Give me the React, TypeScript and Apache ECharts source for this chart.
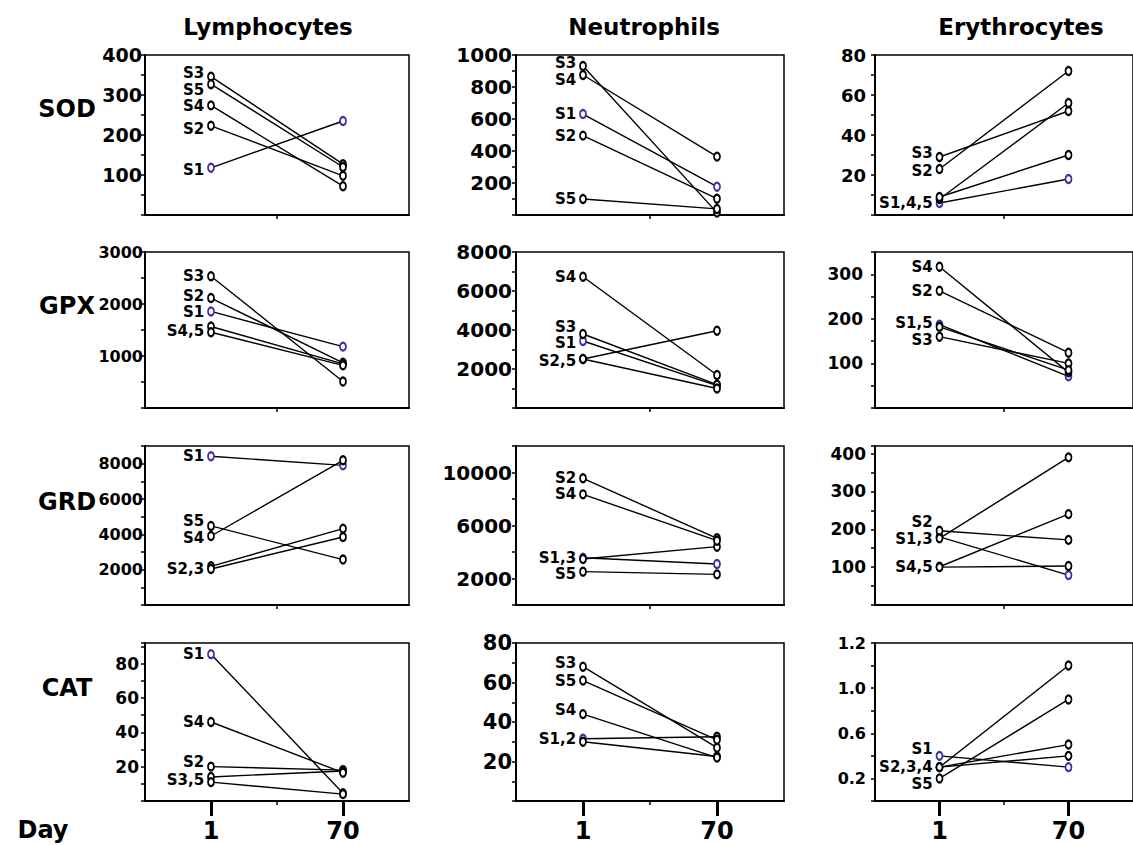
import React, { useEffect, useRef } from "react";
import * as echarts from "echarts";

// ---------- DATA ----------
const CELLS = ["Lymphocytes", "Neutrophils", "Erythrocytes"];
const ENZYMES = ["SOD", "GPX", "GRD", "CAT"];
const DAYS = ["1", "70"];
const DAY_POS = [1, 3];
const X_LABEL = "Day";

// subjects S1..S5, value at day 1 and day 70
const LYM_SOD_D1 = [118, 223, 346, 274, 327];
const LYM_SOD_D70 = [235, 98, 127, 72, 120];
const LYM_GPX_D1 = [1857, 2114, 2534, 1567, 1457];
const LYM_GPX_D70 = [1180, 870, 509, 850, 820];
const LYM_GRD_D1 = [8417, 2190, 2038, 3905, 4476];
const LYM_GRD_D70 = [7905, 4324, 3848, 8190, 2571];
const LYM_CAT_D1 = [85.5, 20, 14, 46, 11];
const LYM_CAT_D70 = [4.5, 18, 17.5, 16.5, 4];

const NEU_SOD_D1 = [631, 496, 931, 875, 100];
const NEU_SOD_D70 = [177, 102, 15, 365, 38];
const NEU_GPX_D1 = [3436, 2513, 3795, 6733, 2513];
const NEU_GPX_D70 = [1150, 3964, 1200, 1692, 1000];
const NEU_GRD_D1 = [3570, 9560, 3472, 8352, 2516];
const NEU_GRD_D70 = [3094, 5032, 4402, 4855, 2314];
const NEU_CAT_D1 = [31.5, 30, 68, 44, 61];
const NEU_CAT_D70 = [32.5, 22.5, 27, 22, 31];

const ERY_SOD_D1 = [6, 23, 29, 8, 9];
const ERY_SOD_D70 = [18, 72, 52, 56, 30];
const ERY_GPX_D1 = [187, 263, 160, 317, 182];
const ERY_GPX_D70 = [71, 124, 100, 80, 85];
const ERY_GRD_D1 = [180, 196, 176, 101, 100];
const ERY_GRD_D70 = [79, 172, 390, 240, 103];
const ERY_CAT_D1 = [0.4, 0.3, 0.3, 0.3, 0.2];
const ERY_CAT_D70 = [0.3, 1.2, 0.5, 0.4, 0.9];

// point labels (attached to day-1 point of each subject)
const LYM_SOD_LBL = ["S1", "S2", "S3", "S4", "S5"];
const NEU_SOD_LBL = ["S1", "S2", "S3", "S4", "S5"];
const ERY_SOD_LBL = ["", "S2", "S3", "S1,4,5", ""];
const LYM_GPX_LBL = ["S1", "S2", "S3", "S4,5", ""];
const NEU_GPX_LBL = ["S1", "S2,5", "S3", "S4", ""];
const ERY_GPX_LBL = ["S1,5", "S2", "S3", "S4", ""];
const LYM_GRD_LBL = ["S1", "S2,3", "", "S4", "S5"];
const NEU_GRD_LBL = ["S1,3", "S2", "", "S4", "S5"];
const ERY_GRD_LBL = ["S1,3", "S2", "", "S4,5", ""];
const LYM_CAT_LBL = ["S1", "S2", "", "S4", "S3,5"];
const NEU_CAT_LBL = ["S1,2", "", "S3", "S4", "S5"];
const ERY_CAT_LBL = ["S1", "S2,3,4", "", "", "S5"];

// which S1 points are drawn in blue [day1, day70]
const LYM_BLUE = [[1, 1], [1, 1], [1, 1], [1, 0]];
const NEU_BLUE = [[1, 1], [1, 0], [1, 1], [1, 0]];
const ERY_BLUE = [[1, 1], [1, 1], [0, 1], [1, 1]];

// y-axis tick labels
const LYM_TICKS = [[100, 200, 300, 400], [1000, 2000, 3000], [2000, 4000, 6000, 8000], [20, 40, 60, 80]];
const NEU_TICKS = [[200, 400, 600, 800, 1000], [2000, 4000, 6000, 8000], [2000, 6000, 10000], [20, 40, 60, 80]];
const ERY_TICKS = [[20, 40, 60, 80], [100, 200, 300], [100, 200, 300, 400], [0.2, 0.6, 1.0, 1.4]];
const ERY_CAT_TICK_TEXT = ["0.2", "0.6", "1.0", "1.2"];

// y-axis ranges / tick steps
const LYM_MAX = [400, 3000, 9000, 92];
const LYM_STEP = [50, 500, 1000, 10];
const NEU_MAX = [1000, 8000, 12000, 80];
const NEU_STEP = [100, 1000, 2000, 10];
const ERY_MAX = [80, 350, 420, 1.4];
const ERY_STEP = [10, 50, 50, 0.2];

// ---------- LAYOUT / STYLE ----------
const COL_LEFT = [145, 516, 875];
const COL_W = [264, 268, 268];
const ROW_TOP = [55, 252, 446, 643];
const ROW_H = [160, 156, 159, 158];
const TITLE_X = [268, 644, 1021];
const ROW_LABEL_Y = [109, 306, 502, 688];
const FONT = '"DejaVu Sans", sans-serif';
const BLUE = "#3a32a8";

// y tick label font sizes and margins per [col][row]
const YLBL_SIZE = [[19, 16, 16, 17], [20, 20, 20, 21], [18, 17, 17, 16]];
const YLBL_MARGIN = [[3, 2, 2, 6], [4, 4, 4, 4], [9, 12, 9, 9]];

// label vertical nudges (px) per panel
const LBL_DY = [
  [[2, 3, -4, 1, 6], [1, -2, 0, 4, 0], [0, 3, 0, 2, -5], [0, -5, 0, 0, -2]],
  [[0, 0, -3, 5, 0], [2, 2, -7, 0, 0], [0, 0, 0, 0, 2], [0, 0, -4, -4, 0]],
  [[0, 2, -4, 4, 0], [-2, 0, 3, 0, 0], [2, -9, 0, 0, 0], [-7, 0, 0, 0, 6]],
];

const D1 = [
  [LYM_SOD_D1, LYM_GPX_D1, LYM_GRD_D1, LYM_CAT_D1],
  [NEU_SOD_D1, NEU_GPX_D1, NEU_GRD_D1, NEU_CAT_D1],
  [ERY_SOD_D1, ERY_GPX_D1, ERY_GRD_D1, ERY_CAT_D1],
];
const D70 = [
  [LYM_SOD_D70, LYM_GPX_D70, LYM_GRD_D70, LYM_CAT_D70],
  [NEU_SOD_D70, NEU_GPX_D70, NEU_GRD_D70, NEU_CAT_D70],
  [ERY_SOD_D70, ERY_GPX_D70, ERY_GRD_D70, ERY_CAT_D70],
];
const LBL = [
  [LYM_SOD_LBL, LYM_GPX_LBL, LYM_GRD_LBL, LYM_CAT_LBL],
  [NEU_SOD_LBL, NEU_GPX_LBL, NEU_GRD_LBL, NEU_CAT_LBL],
  [ERY_SOD_LBL, ERY_GPX_LBL, ERY_GRD_LBL, ERY_CAT_LBL],
];
const BLUES = [LYM_BLUE, NEU_BLUE, ERY_BLUE];
const TICKS = [LYM_TICKS, NEU_TICKS, ERY_TICKS];
const MAXS = [LYM_MAX, NEU_MAX, ERY_MAX];
const STEPS = [LYM_STEP, NEU_STEP, ERY_STEP];

function buildOption() {
  const grid: any[] = [];
  const xAxis: any[] = [];
  const yAxis: any[] = [];
  const series: any[] = [];
  const graphic: any[] = [];

  let gi = 0;
  for (let r = 0; r < 4; r++) {
    for (let c = 0; c < 3; c++) {
      grid.push({
        left: COL_LEFT[c],
        top: ROW_TOP[r],
        width: COL_W[c],
        height: ROW_H[r],
        show: true,
        borderColor: "#000",
        borderWidth: 1.5,
        containLabel: false,
      });
      const ticks = TICKS[c][r];
      const isEryCat = c === 2 && r === 3;
      yAxis.push({
        type: "value",
        gridIndex: gi,
        min: 0,
        max: MAXS[c][r],
        interval: STEPS[c][r],
        axisLine: { show: true, lineStyle: { color: "#000", width: 2 } },
        axisTick: { show: true, length: 4, lineStyle: { color: "#000", width: 1.5 } },
        splitLine: { show: false },
        axisLabel: {
          margin: YLBL_MARGIN[c][r],
          color: "#000",
          fontFamily: FONT,
          fontWeight: "bold",
          fontSize: YLBL_SIZE[c][r],
          lineHeight: YLBL_SIZE[c][r],
          formatter: (v: number) => {
            const i = ticks.findIndex((t) => Math.abs(t - v) < 1e-6);
            if (i < 0) return "";
            return isEryCat ? ERY_CAT_TICK_TEXT[i] : String(ticks[i]);
          },
        },
      });
      // base x axis (small middle tick)
      xAxis.push({
        type: "value",
        gridIndex: gi,
        min: 0,
        max: 4,
        interval: 1,
        axisLine: { show: true, onZero: false, lineStyle: { color: "#000", width: 2 } },
        axisTick: { show: true, customValues: [2], length: 4, lineStyle: { color: "#000", width: 1.5 } },
        axisLabel: { show: false },
        splitLine: { show: false },
      });
      const xIdx = xAxis.length - 1;
      if (r === 3) {
        xAxis.push({
          type: "value",
          gridIndex: gi,
          min: 0,
          max: 4,
          interval: 1,
          position: "bottom",
          axisLine: { show: false, onZero: false },
          axisTick: { show: true, customValues: DAY_POS, length: 15, lineStyle: { color: "#000", width: 3 } },
          axisLabel: {
            show: true,
            customValues: DAY_POS,
            margin: 19,
            color: "#000",
            fontFamily: FONT,
            fontWeight: "bold",
            fontSize: 24,
            lineHeight: 22,
            formatter: (v: number) => {
              const i = DAY_POS.indexOf(Math.round(v));
              return i >= 0 ? DAYS[i] : "";
            },
          },
          splitLine: { show: false },
        });
      }
      const d1 = D1[c][r];
      const d70 = D70[c][r];
      const lbl = LBL[c][r];
      const blue = BLUES[c][r];
      const dy = LBL_DY[c][r];
      for (let s = 0; s < d1.length; s++) {
        const c1 = s === 0 && blue[0] ? BLUE : "#000";
        const c70 = s === 0 && blue[1] ? BLUE : "#000";
        series.push({
          type: "line",
          xAxisIndex: xIdx,
          yAxisIndex: gi,
          symbol: "emptyCircle",
          symbolSize: [6, 8],
          showSymbol: true,
          lineStyle: { color: "#000", width: 1.4 },
          itemStyle: { color: "#000", borderWidth: 1.5 },
          emphasis: { disabled: true },
          data: [
            {
              value: [DAY_POS[0], d1[s]],
              itemStyle: { color: c1, borderColor: c1 },
              label: {
                show: lbl[s] !== "",
                position: "left",
                distance: 3,
                offset: [0, dy[s]],
                formatter: lbl[s],
                color: "#000",
                fontFamily: FONT,
                fontWeight: "bold",
                fontSize: 15,
                lineHeight: 14,
              },
            },
            {
              value: [DAY_POS[1], d70[s]],
              itemStyle: { color: c70, borderColor: c70 },
            },
          ],
        });
      }
      gi++;
    }
  }

  const txt = (text: string, x: number, y: number, size: number) => ({
    type: "text",
    x,
    y,
    style: {
      text,
      fill: "#000",
      font: `bold ${size}px ${FONT}`,
      textAlign: "center",
      textVerticalAlign: "middle",
      align: "center",
      verticalAlign: "middle",
    },
  });
  for (let c = 0; c < 3; c++) graphic.push(txt(CELLS[c], TITLE_X[c], 27, 23));
  for (let r = 0; r < 4; r++) graphic.push(txt(ENZYMES[r], 67, ROW_LABEL_Y[r], 24));
  graphic.push(txt(X_LABEL, 43, 830, 24));

  return {
    animation: false,
    backgroundColor: "#fff",
    grid,
    xAxis,
    yAxis,
    series,
    graphic,
  };
}

export default function App() {
  const ref = useRef<HTMLDivElement>(null);
  useEffect(() => {
    if (!ref.current) return;
    const chart = echarts.init(ref.current, undefined, { renderer: "svg" });
    chart.setOption(buildOption() as any);
    return () => chart.dispose();
  }, []);
  return (
    <div
      ref={ref}
      style={{ position: "fixed", left: 0, top: 0, width: 1133, height: 845, background: "#fff" }}
    />
  );
}
